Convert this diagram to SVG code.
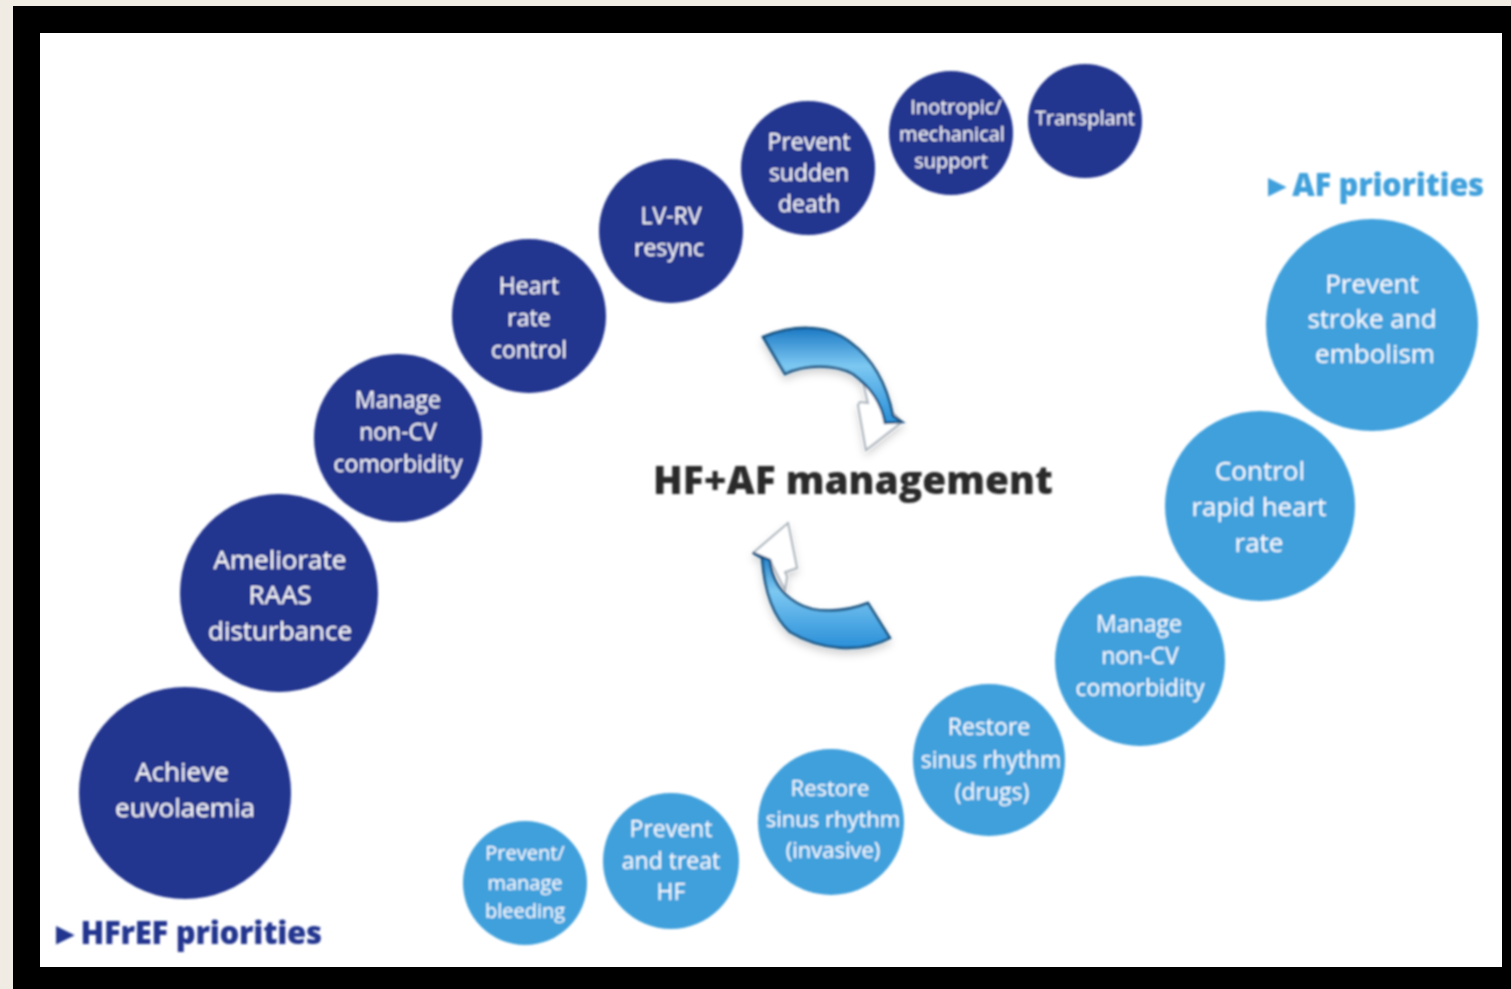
<svg xmlns="http://www.w3.org/2000/svg" width="1511" height="989" viewBox="0 0 1511 989">
<style>
.t{font-family:"Open Sans","Liberation Sans",sans-serif;fill:#fff;text-anchor:middle;font-weight:400}
.d{fill:#22348f}
.l{fill:#41a0dc}
.h{font-family:"Open Sans","Liberation Sans",sans-serif;font-weight:800}
</style>
<defs>
<linearGradient id="ga" x1="0" y1="0" x2="0" y2="1"><stop offset="0" stop-color="#1c79c4"/><stop offset="0.4" stop-color="#7cc8f2"/><stop offset="1" stop-color="#2a8fd8"/></linearGradient>
<filter id="b" x="-5%" y="-5%" width="110%" height="110%"><feGaussianBlur stdDeviation="0.9"/></filter>
<filter id="s" x="-20%" y="-20%" width="140%" height="140%"><feDropShadow dx="0" dy="5" stdDeviation="4" flood-color="#000" flood-opacity="0.18"/></filter>
</defs>
<rect width="1511" height="989" fill="#f0ece4"/>
<rect x="13" y="6" width="1498" height="983" fill="#000"/>
<rect x="40" y="33" width="1462" height="934" fill="#fff"/>
<g id="connectors" filter="url(#b)">
<g id="arrow-top" filter="url(#s)">
<path d="M858 405L860 402L868 403L863 382L890 410L902 422L866 450Z" fill="#fff" stroke="#a9b2bb" stroke-width="2"/>
<path d="M763 337C790 326 825 322 850 342C877 362 888 390 893 416L902 422L885 423C882 405 872 388 853 374C835 364 805 364 785 374Z" fill="url(#ga)" stroke="#14507f" stroke-width="2.5"/>
</g>
<g id="arrow-bottom" filter="url(#s)">
<path d="M797 568L785 572L787 577L785 590L770 560L753 553L788 523Z" fill="#fff" stroke="#a9b2bb" stroke-width="2"/>
<path d="M890 638C860 654 820 650 790 632C770 614 764 585 762 558L753 553L770 560C771 575 778 592 797 603C815 614 845 612 868 603Z" fill="url(#ga)" stroke="#14507f" stroke-width="2.5"/>
</g>
</g>
<g filter="url(#b)">
<g id="hf1"><circle class="d" cx="185" cy="793" r="106"/><text class="t" font-size="26"><tspan x="182" y="781">Achieve</tspan><tspan x="185" y="817">euvolaemia</tspan></text></g>
<g id="hf2"><circle class="d" cx="279" cy="593" r="99"/><text class="t" font-size="26"><tspan x="280" y="569">Ameliorate</tspan><tspan x="280" y="604">RAAS</tspan><tspan x="280" y="640">disturbance</tspan></text></g>
<g id="hf3"><circle class="d" cx="398" cy="438" r="84"/><text class="t" font-size="23"><tspan x="398" y="408">Manage</tspan><tspan x="398" y="440">non-CV</tspan><tspan x="398" y="472">comorbidity</tspan></text></g>
<g id="hf4"><circle class="d" cx="529" cy="316" r="77"/><text class="t" font-size="23"><tspan x="529" y="294">Heart</tspan><tspan x="529" y="326">rate</tspan><tspan x="529" y="358">control</tspan></text></g>
<g id="hf5"><circle class="d" cx="671" cy="231" r="72"/><text class="t" font-size="23"><tspan x="671" y="224">LV-RV</tspan><tspan x="669" y="256">resync</tspan></text></g>
<g id="hf6"><circle class="d" cx="808" cy="168" r="67"/><text class="t" font-size="23"><tspan x="809" y="150">Prevent</tspan><tspan x="809" y="181">sudden</tspan><tspan x="809" y="212">death</tspan></text></g>
<g id="hf7"><circle class="d" cx="951" cy="133" r="62"/><text class="t" font-size="20"><tspan x="956" y="114">Inotropic/</tspan><tspan x="952" y="141">mechanical</tspan><tspan x="951" y="168">support</tspan></text></g>
<g id="hf8"><circle class="d" cx="1085" cy="121" r="57"/><text class="t" font-size="20" x="1085" y="125">Transplant</text></g>
<g id="af1"><circle class="l" cx="1372" cy="325" r="106"/><text class="t" font-size="26"><tspan x="1372" y="293">Prevent</tspan><tspan x="1372" y="328">stroke and</tspan><tspan x="1375" y="363">embolism</tspan></text></g>
<g id="af2"><circle class="l" cx="1260" cy="506" r="95"/><text class="t" font-size="26"><tspan x="1260" y="480">Control</tspan><tspan x="1259" y="516">rapid heart</tspan><tspan x="1259" y="552">rate</tspan></text></g>
<g id="af3"><circle class="l" cx="1140" cy="661" r="85"/><text class="t" font-size="23"><tspan x="1139" y="632">Manage</tspan><tspan x="1140" y="664">non-CV</tspan><tspan x="1140" y="696">comorbidity</tspan></text></g>
<g id="af4"><circle class="l" cx="989" cy="760" r="76"/><text class="t" font-size="23"><tspan x="989" y="735">Restore</tspan><tspan x="991" y="768">sinus rhythm</tspan><tspan x="992" y="800">(drugs)</tspan></text></g>
<g id="af5"><circle class="l" cx="831" cy="822" r="73"/><text class="t" font-size="22"><tspan x="830" y="796">Restore</tspan><tspan x="833" y="827">sinus rhythm</tspan><tspan x="833" y="858">(invasive)</tspan></text></g>
<g id="af6"><circle class="l" cx="671" cy="861" r="68"/><text class="t" font-size="23"><tspan x="671" y="837">Prevent</tspan><tspan x="671" y="869">and treat</tspan><tspan x="671" y="900">HF</tspan></text></g>
<g id="af7"><circle class="l" cx="525" cy="883" r="62"/><text class="t" font-size="20"><tspan x="525" y="860">Prevent/</tspan><tspan x="525" y="890">manage</tspan><tspan x="525" y="918">bleeding</tspan></text></g>
<text id="center" class="h" x="853" y="494" font-size="38.8" text-anchor="middle" fill="#2b2b2b">HF+AF management</text>
<text id="af-label" class="h" x="1373" y="196" font-size="31" text-anchor="middle" fill="#41a0dc" textLength="222" lengthAdjust="spacing">►AF priorities</text>
<text id="hf-label" class="h" x="186" y="944" font-size="31" text-anchor="middle" fill="#22348f" textLength="272" lengthAdjust="spacing">►HFrEF priorities</text>
</g>
</svg>
